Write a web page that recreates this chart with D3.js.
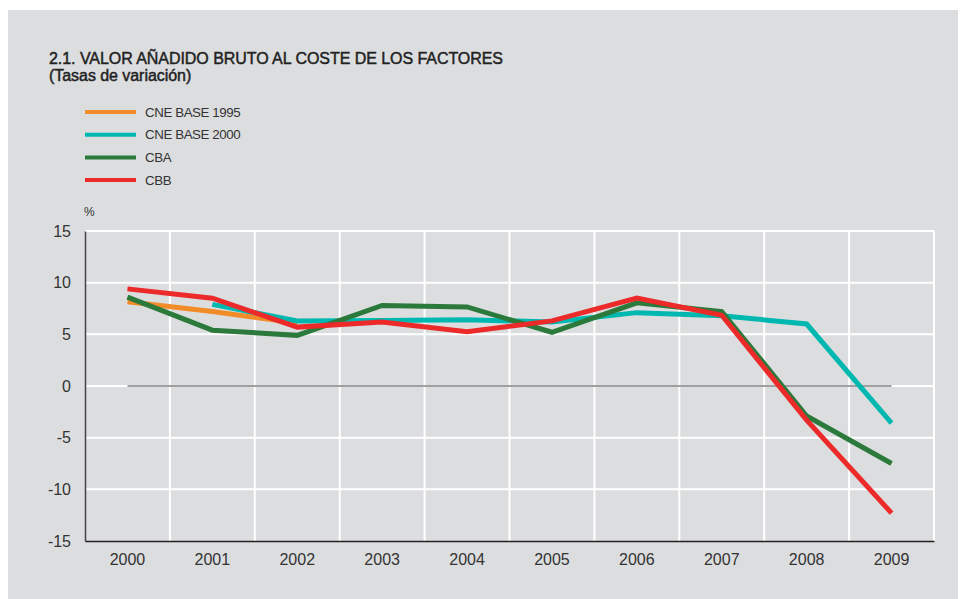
<!DOCTYPE html>
<html><head><meta charset="utf-8">
<script src="https://cdn.jsdelivr.net/npm/d3@7"></script>
<style>
html,body{margin:0;padding:0;background:#fff;}
svg{display:block;font-family:"Liberation Sans",Arial,Helvetica,sans-serif;}
</style></head>
<body>
<svg id="c" width="960" height="599"></svg>
<script>
const years = ["2000","2001","2002","2003","2004","2005","2006","2007","2008","2009"];
const cne1995 = [8.15, 7.2, 6.1, null, null, null, null, null, null, null];
const cne2000 = [null, 7.9, 6.3, 6.35, 6.4, 6.2, 7.1, 6.8, 6.0, -3.6];
const cba = [8.6, 5.4, 4.9, 7.8, 7.65, 5.2, 8.05, 7.2, -2.9, -7.5];
const cbb = [9.4, 8.5, 5.7, 6.2, 5.25, 6.3, 8.5, 6.85, -3.3, -12.3];
const yTicks = [15, 10, 5, 0, -5, -10, -15];
const seriesNames = ["CNE BASE 1995", "CNE BASE 2000", "CBA", "CBB"];
const seriesColors = ["#f28c28", "#00b8b0", "#2b7a3b", "#ec2a2a"];
const seriesValues = [cne1995, cne2000, cba, cbb];

(function(){
const svg = d3.select("#c");
svg.append("rect").attr("x", 8).attr("y", 10).attr("width", 950).attr("height", 589).attr("fill", "#dcdddf");

// Title
svg.append("text").attr("x", 49).attr("y", 64).attr("font-size", 16).attr("fill", "#222")
  .attr("stroke", "#222").attr("stroke-width", 0.45).attr("letter-spacing", -0.05)
  .text("2.1. VALOR AÑADIDO BRUTO AL COSTE DE LOS FACTORES");
svg.append("text").attr("x", 49).attr("y", 81).attr("font-size", 16).attr("fill", "#222")
  .attr("stroke", "#222").attr("stroke-width", 0.45).attr("letter-spacing", -0.05)
  .text("(Tasas de variación)");

// Legend
const lg = svg.append("g");
seriesNames.forEach((n, i) => {
  const yy = 112 + i * 22.7;
  lg.append("line").attr("x1", 85).attr("x2", 136).attr("y1", yy).attr("y2", yy)
    .attr("stroke", seriesColors[i]).attr("stroke-width", 4);
  lg.append("text").attr("x", 145).attr("y", yy + 4.5).attr("font-size", 13.3).attr("fill", "#333")
    .attr("letter-spacing", -0.4).text(n);
});

const pL = 85, pR = 934, pT = 231, pB = 541;
const x = d3.scaleBand().domain(years).range([pL, pR]);
const y = d3.scaleLinear().domain([-15, 15]).range([pB, pT]);

// Grid
const g = svg.append("g");
g.selectAll(".hg").data(yTicks.filter(d => d !== -15)).enter().append("line")
  .attr("x1", pL).attr("x2", pR).attr("y1", d => y(d)).attr("y2", d => y(d))
  .attr("stroke", "#fff").attr("stroke-width", 2);
g.selectAll(".vg").data(years).enter().append("line")
  .attr("x1", d => x(d) + x.step()).attr("x2", d => x(d) + x.step())
  .attr("y1", pT).attr("y2", pB).attr("stroke", "#fff").attr("stroke-width", 2);

// zero line
g.append("line").attr("x1", x("2000") + x.bandwidth() / 2).attr("x2", x("2009") + x.bandwidth() / 2)
  .attr("y1", y(0)).attr("y2", y(0)).attr("stroke", "#808080").attr("stroke-width", 1.5);

// Axes
const ya = svg.append("g").attr("transform", `translate(${pL},0)`)
  .call(d3.axisLeft(y).tickValues(yTicks).tickSize(0).tickPadding(14).tickFormat(d => String(d)));
ya.select(".domain").attr("stroke", "#444").attr("stroke-width", 1.5);
ya.selectAll("text").attr("font-size", 16).attr("fill", "#333").attr("font-family", "Liberation Sans, Arial, sans-serif");

const xa = svg.append("g").attr("transform", `translate(0,${pB})`)
  .call(d3.axisBottom(x).tickSize(0).tickPadding(13));
xa.select(".domain").attr("stroke", "#222").attr("stroke-width", 1.5);
xa.selectAll("text").attr("font-size", 16).attr("fill", "#333").attr("font-family", "Liberation Sans, Arial, sans-serif");

svg.append("text").attr("x", 84).attr("y", 216).attr("font-size", 12).attr("fill", "#333").text("%");

// Lines
const line = d3.line().defined(d => d.v !== null)
  .x(d => x(d.k) + x.bandwidth() / 2).y(d => y(d.v));
seriesValues.forEach((vals, i) => {
  const data = years.map((k, j) => ({k, v: vals[j]}));
  svg.append("path").datum(data).attr("d", line).attr("fill", "none")
    .attr("stroke", seriesColors[i]).attr("stroke-width", 5).attr("stroke-linejoin", "miter");
});
})();
</script>
</body></html>
